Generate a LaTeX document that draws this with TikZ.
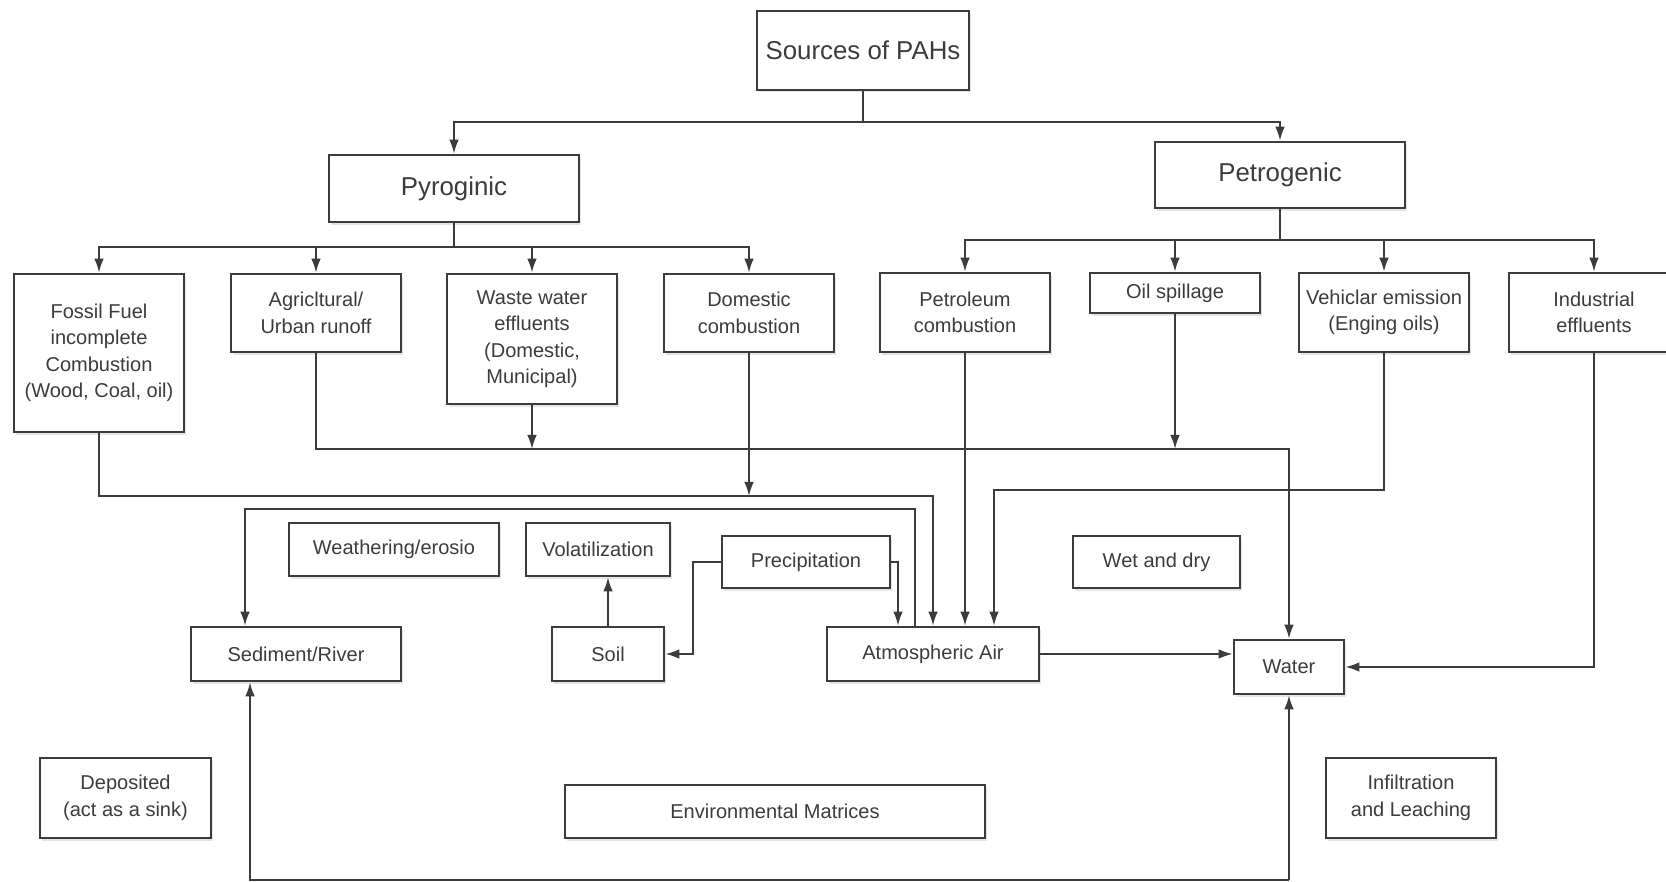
\documentclass[tikz,border=0pt]{standalone}
\usepackage{fontspec}
\setmainfont{Liberation Sans}
\usepackage{tikz}
\usetikzlibrary{arrows.meta, calc, shadows}
\definecolor{grigio}{HTML}{3C3C3C}

\begin{document}
\begin{tikzpicture}[x = 0.02cm, y = -0.02cm,
    box/.style = {draw = grigio, line width = 1.5pt, fill = white, align = center, inner sep = 0pt,
        text = grigio, font = \fontsize{11.4}{15.1}\selectfont,
        drop shadow = {opacity = 0.2, shadow xshift = 0.04cm, shadow yshift = -0.05cm}},
    big/.style = {font = \fontsize{14.7}{17}\selectfont},
    wh/.style 2 args = {minimum width = #1*0.02cm, minimum height = #2*0.02cm},
    freccia/.style = {-{Latex[length = 8pt, width = 5.5pt]}, draw = grigio, line width = 1.1pt},
    linea/.style = {draw = grigio, line width = 1.1pt}]
    % Cornice
    \clip (0,0) rectangle (1666,882);
    \fill[white] (0,0) rectangle (1666,882);
    % Livelli di raccordo
    \coordinate (jtop) at (863,122);
    \coordinate (jagri) at (0,449);
    \coordinate (jveh) at (0,490);
    \coordinate (jfoss) at (0,496);
    \coordinate (jsed) at (0,509);
    \coordinate (jbot) at (0,880);

    % Sorgenti
    \node[box, big, wh = {212}{79}] (src) at (863,50.5) {Sources of PAHs};
    \node[box, big, wh = {250}{67}] (pyro) at (454,188.5) {Pyroginic};
    \node[box, big, wh = {250}{66}] (petro) at (1280,175) {Petrogenic};

    \node[box, wh = {170}{158}] (fossil) at (99,353) {Fossil Fuel\\incomplete\\Combustion\\(Wood, Coal, oil)};
    \node[box, wh = {170}{78}] (agri) at (316,313) {Agricltural/\\Urban runoff};
    \node[box, wh = {170}{130}] (waste) at (532,339) {Waste water\\effluents\\(Domestic,\\Municipal)};
    \node[box, wh = {170}{78}] (domc) at (749,313) {Domestic\\combustion};
    \node[box, wh = {170}{79}] (petc) at (965,312.5) {Petroleum\\combustion};
    \node[box, wh = {170}{40}] (oil) at (1175,293) {Oil spillage};
    \node[box, wh = {170}{79}] (veh) at (1384,312.5) {Vehiclar emission\\(Enging oils)};
    \node[box, wh = {170}{79}] (ind) at (1594,312.5) {Industrial\\effluents};

    % Matrici ambientali
    \node[box, wh = {210}{53}] (weath) at (394,549.5) {Weathering/erosio};
    \node[box, wh = {144}{53}] (volat) at (598,549.5) {Volatilization};
    \node[box, wh = {168}{52}] (precip) at (806,562) {Precipitation};
    \node[box, wh = {167}{52}] (wetdry) at (1156.5,562) {Wet and dry};
    \node[box, wh = {210}{54}] (sed) at (296,654) {Sediment/River};
    \node[box, wh = {112}{54}] (soil) at (608,654) {Soil};
    \node[box, wh = {212}{54}] (atm) at (933,654) {Atmospheric Air};
    \node[box, wh = {110}{54}] (water) at (1289,667) {Water};
    \node[box, wh = {171}{80}] (depo) at (125.5,798) {Deposited\\(act as a sink)};
    \node[box, wh = {420}{53}] (env) at (775,811.5) {Environmental Matrices};
    \node[box, wh = {170}{80}] (infil) at (1411,798) {Infiltration\\and Leaching};

    % Punti di arrivo
    \coordinate (atmprec) at ($(atm.north)+(-35,0)$);
    \coordinate (atmsed) at ($(atm.north)+(-18,0)$);
    \coordinate (atmveh) at ($(atm.north)+(61,0)$);
    \coordinate (sedin) at ($(sed.north)+(-51,0)$);
    \coordinate (sedup) at ($(sed.south)+(-46,0)$);

    % Albero
    \draw[linea] (src) -- (jtop);
    \draw[freccia] (jtop) -| (pyro);
    \draw[freccia] (jtop) -| (petro);
    \draw[linea] (pyro) -- ++(0,58.5) coordinate (jpyro);
    \foreach \n in {fossil, agri, waste, domc} {
        \draw[freccia] (jpyro) -| (\n.north);
    };
    \draw[linea] (petro) -- ++(0,65) coordinate (jpetro);
    \foreach \n in {petc, oil, veh, ind} {
        \draw[freccia] (jpetro) -| (\n.north);
    };

    % Verso le matrici
    \draw[freccia] (agri.south) -- (agri.south |- jagri) -| (water.north);
    \draw[freccia] (waste.south) -- (waste.south |- jagri);
    \draw[freccia] (oil.south) -- (oil.south |- jagri);
    \draw[freccia] (fossil.south) -- (fossil.south |- jfoss) -| (atm.north);
    \draw[freccia] (domc.south) -- (domc.south |- jfoss);
    \draw[freccia] (petc.south) -- (petc.south |- atm.north);
    \draw[freccia] (veh.south) |- (atmveh |- jveh) -- (atmveh);
    \draw[freccia] (ind.south) |- (water.east);
    \draw[freccia] (atmsed) |- (sedin |- jsed) -- (sedin);
    \draw[freccia] (precip.east) -| (atmprec);
    \draw[freccia] (precip.west) -- ++(-28,0) |- (soil.east);
    \draw[freccia] (soil.north) -- (soil.north |- volat.south);
    \draw[freccia] (atm.east) -- (atm.east -| water.west);
    \draw[freccia] (water.south |- jbot) -| (sedup);
    \draw[freccia] (water.south |- jbot) -- (water.south);
\end{tikzpicture}
\end{document}
